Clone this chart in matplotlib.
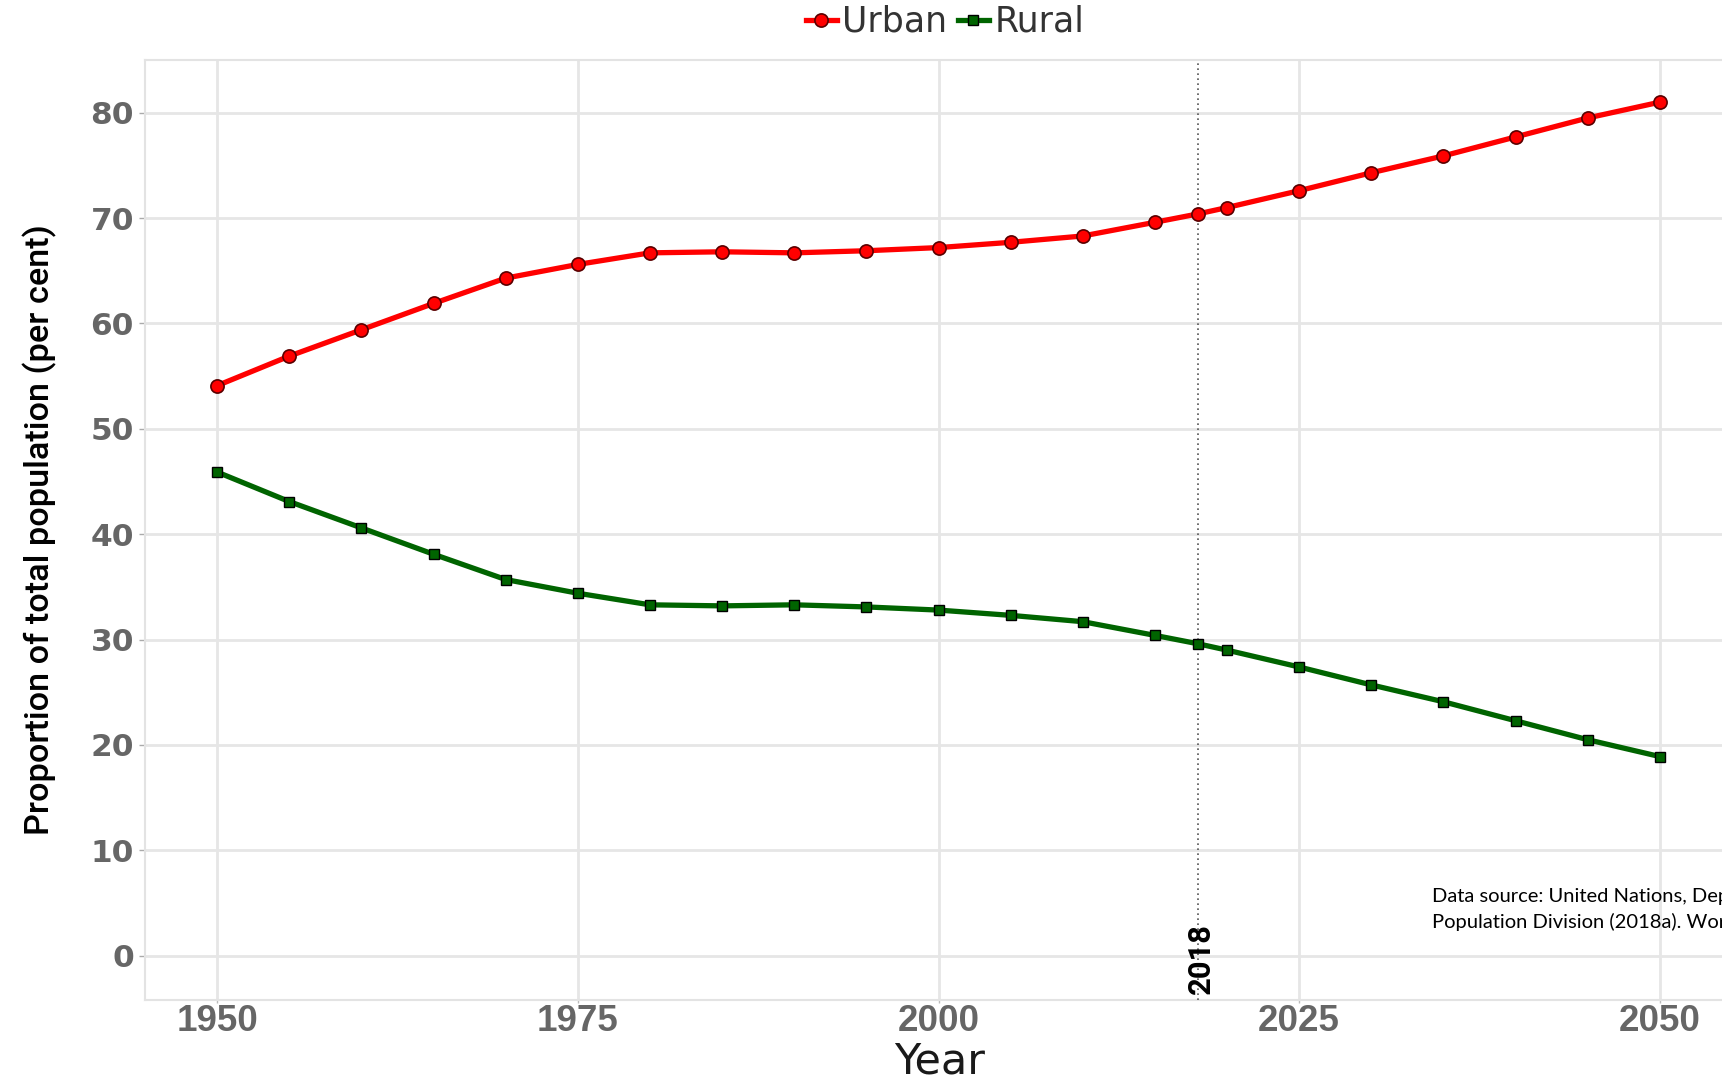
import matplotlib
matplotlib.use('Agg')

import matplotlib.pyplot as plt

years = [1950, 1955, 1960, 1965, 1970, 1975, 1980, 1985, 1990, 1995, 2000,
         2005, 2010, 2015, 2018, 2020, 2025, 2030, 2035, 2040, 2045, 2050]
urban = [54.1, 56.9, 59.4, 61.9, 64.3, 65.6, 66.7, 66.8, 66.7, 66.9, 67.2,
         67.7, 68.3, 69.6, 70.4, 71.0, 72.6, 74.3, 75.9, 77.7, 79.5, 81.0]
rural = [45.9, 43.1, 40.6, 38.1, 35.7, 34.4, 33.3, 33.2, 33.3, 33.1, 32.8,
         32.3, 31.7, 30.4, 29.6, 29.0, 27.4, 25.7, 24.1, 22.3, 20.5, 18.9]
x_ticks = [1950, 1975, 2000, 2025, 2050]
y_ticks = [0, 10, 20, 30, 40, 50, 60, 70, 80]
mark_year = 2018
source_note = ("Data source: United Nations, Department of Economic and Social Affairs,\n"
               "Population Division (2018a). World Urbanization Prospects: The 2018 Revision.")

narrow = ['Roboto', 'DejaVu Sans']
grid_c = '#e6e6e6'
tick_c = '#666666'

fig = plt.figure(figsize=(17.22, 10.81), dpi=100)
ax = fig.add_axes([145 / 1722, 1 - 1000 / 1081, 1587 / 1722, 940 / 1081])

ax.plot(years, urban, color='#ff0000', lw=3.8, marker='o', ms=9.5,
        mfc='#ff0000', mec='#5a0000', mew=1.2, label='Urban', zorder=4)
ax.plot(years, rural, color='#006400', lw=3.8, marker='s', ms=6.5,
        mfc='#006400', mec='#000000', mew=1.0, label='Rural', zorder=4)

ax.axvline(mark_year, color='#555555', lw=1.2, ls=(0, (1, 2)), zorder=3)
lbl_2018 = ax.text(mark_year + 0.2, -0.3, str(mark_year), rotation=90,
                   ha='center', va='center', fontsize=24, fontweight='bold',
                   family=narrow, color='black', zorder=5)

ax.set_xlim(1945, 2055)
ax.set_ylim(-4.2, 85.0)
ax.set_xticks(x_ticks)
ax.set_yticks(y_ticks)
ax.grid(True, color=grid_c, lw=2)
ax.set_axisbelow(True)
for s in ax.spines.values():
    s.set_color('#e3e3e3')
    s.set_linewidth(1.5)
ax.tick_params(axis='x', length=2, width=1, color='#bbbbbb', pad=1,
               labelsize=24, labelcolor=tick_c,
               labelfontfamily='Liberation Sans')
ax.tick_params(axis='y', length=4, width=1, color='#aaaaaa', pad=4,
               labelsize=22.5, labelcolor=tick_c)
for lab in ax.get_xticklabels() + ax.get_yticklabels():
    lab.set_fontweight('bold')

ylab = fig.text(40 / 1722, 0.5097, 'Proportion of total population (per cent)',
                rotation=90, ha='center', va='center', fontsize=26,
                family=narrow, fontweight=500, color='black')
fig.text(940 / 1722, 1 - 1073 / 1081, 'Year', ha='center', va='baseline',
         fontsize=31, color='#1a1a1a')

fig.legend(loc='center', bbox_to_anchor=(945 / 1722, 1 - 22 / 1081), ncol=2,
           frameon=False, fontsize=25, handlelength=0.9, handletextpad=0.15,
           columnspacing=0.3, numpoints=1, labelcolor='#333333')

fig.text(1432 / 1722, 1 - 888 / 1081, source_note, ha='left', va='top',
         fontsize=14.5, family=['Lato', 'DejaVu Sans'], linespacing=1.5,
         color='black')

# squeeze the rotated labels to the lengths they have in the original
renderer = fig.canvas.get_renderer()
for t, target in [(ylab, 610), (lbl_2018, 71)]:
    length = t.get_window_extent(renderer).height
    t.set_fontsize(t.get_fontsize() * target / length)

# x tick labels: "1950" is about 82 px wide in the original
fig.canvas.draw()
w = ax.get_xticklabels()[0].get_window_extent(renderer).width
ax.tick_params(axis='x', labelsize=24 * 82 / w)

fig.savefig('out.png', dpi=100)
